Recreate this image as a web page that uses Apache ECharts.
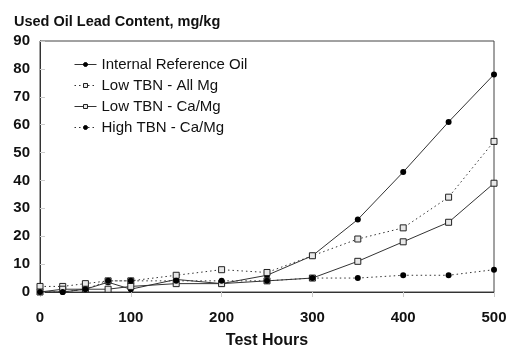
<!DOCTYPE html>
<html><head><meta charset="utf-8">
<script src="https://cdn.jsdelivr.net/npm/echarts@6/dist/echarts.min.js"></script>
<style>html,body{margin:0;padding:0;background:#fff}#c{width:524px;height:348px}</style>
</head><body><div id="c"></div>
<script>
var hours = [0,25,50,75,100,150,200,250,300,350,400,450,500];
var internalRef = [0,0,1,3.5,1,4.5,3,6,13,26,43,61,78];
var lowTbnAllMg = [2,2,3,4,4,6,8,7,13,19,23,34,54];
var lowTbnCaMg = [0,1,1,1,2,3,3,4,5,11,18,25,39];
var highTbnCaMg = [0,0,1,4,4,4,4,4,5,5,6,6,8];
var seriesNames = ['Internal Reference Oil','Low TBN - All Mg','Low TBN - Ca/Mg','High TBN - Ca/Mg'];

function pairs(arr){ return hours.map(function(h,i){ return [h, arr[i]]; }); }
var font = 'Liberation Sans, Arial, sans-serif';
var lineCol = '#333';
function mk(name, data, dotted, square){
  return {
    name: name, type: 'line', data: pairs(data),
    symbol: square ? 'rect' : 'circle',
    symbolSize: 6,
    showAllSymbol: true,
    lineStyle: {color: lineCol, width: 1, type: dotted ? [1.5,3] : 'solid'},
    itemStyle: square ? {color: '#e8e8e8', borderColor: '#222', borderWidth: 1} : {color: '#000', borderColor: '#000', borderWidth: 0},
    emphasis: {disabled: true},
    animation: false
  };
}
var chart = echarts.init(document.getElementById('c'), null, {renderer: 'canvas'});
chart.setOption({
  animation: false,
  title: {text: 'Used Oil Lead Content, mg/kg', left: 9, top: 9,
    textStyle: {fontFamily: font, fontWeight: 'bold', fontSize: 14.5, color: '#111'}},
  grid: {left: 40, right: 30, top: 41, bottom: 56, show: true, borderColor: '#444', borderWidth: 1,
    backgroundColor: 'transparent', containLabel: false, outerBoundsMode: 'none'},
  legend: {
    orient: 'vertical', left: 69, top: 52, itemGap: 6, itemWidth: 22, itemHeight: 5,
    data: seriesNames,
    lineStyle: {width: 1},
    itemStyle: {borderWidth: 1},
    textStyle: {fontFamily: font, fontSize: 15, color: '#111'}
  },
  xAxis: {
    type: 'value', min: 0, max: 500, interval: 100,
    name: 'Test Hours', nameLocation: 'middle', nameGap: 41,
    nameTextStyle: {fontFamily: font, fontWeight: 'bold', fontSize: 16, color: '#111'},
    axisLine: {lineStyle: {color: '#333', width: 1}},
    axisTick: {show: true, length: 5, lineStyle: {color: '#ccc'}},
    axisLabel: {fontFamily: font, fontWeight: 'bold', fontSize: 15, color: '#111', margin: 18},
    splitLine: {show: false}
  },
  yAxis: {
    type: 'value', min: 0, max: 90, interval: 10,
    axisLine: {show: true, lineStyle: {color: '#333', width: 1}},
    axisTick: {show: true, inside: true, length: 5, lineStyle: {color: '#ccc'}},
    axisLabel: {fontFamily: font, fontWeight: 'bold', fontSize: 15, color: '#111', margin: 10},
    splitLine: {show: false}
  },
  series: [
    mk(seriesNames[0], internalRef, false, false),
    mk(seriesNames[1], lowTbnAllMg, true, true),
    mk(seriesNames[2], lowTbnCaMg, false, true),
    mk(seriesNames[3], highTbnCaMg, true, false)
  ]
});
</script></body></html>
